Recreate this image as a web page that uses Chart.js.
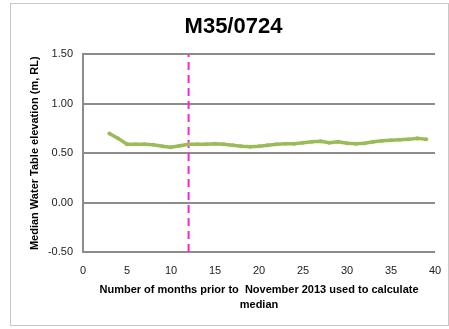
<!DOCTYPE html>
<html>
<head>
<meta charset="utf-8">
<script src="https://cdn.jsdelivr.net/npm/chart.js@4"></script>
<style>
    html, body { margin: 0; padding: 0; background: #fff; }
    #frame {
        position: absolute; left: 10px; top: 3px;
        width: 437px; height: 321px;
        border: 1px solid #c8c8c8;
    }
    #wrap { position: absolute; left: 0; top: 0; width: 449px; height: 329px; }
</style>
</head>
<body>
<div id="frame"></div>
<div id="wrap"><canvas id="chart" width="449" height="329"></canvas></div>
<script>
// months prior to Nov 2013 vs median water table elevation
const months = [3, 4, 5, 6, 7, 8, 9, 10, 11, 12, 13, 14, 15, 16, 17, 18, 19, 20, 21,
    22, 23, 24, 25, 26, 27, 28, 29, 30, 31, 32, 33, 34, 35, 36, 37, 38, 39];
const medianLevel = [0.70, 0.65, 0.59, 0.59, 0.59, 0.585, 0.57, 0.56, 0.575, 0.59, 0.59,
    0.59, 0.595, 0.59, 0.58, 0.57, 0.565, 0.57, 0.58, 0.59, 0.595, 0.595, 0.605, 0.615,
    0.62, 0.605, 0.615, 0.60, 0.595, 0.60, 0.615, 0.625, 0.63, 0.635, 0.64, 0.65, 0.64];
const markerMonth = [12, 12];
const markerLevel = [-0.5, 1.5];
const xTicks = [0, 5, 10, 15, 20, 25, 30, 35, 40];
const yTicks = [-0.5, 0, 0.5, 1.0, 1.5];

const font = "'Liberation Sans', Arial, sans-serif";
const gridGray = '#8c8c8c';

const lineData = months.map((m, i) => ({ x: m, y: medianLevel[i] }));
const dashData = markerMonth.map((m, i) => ({ x: m, y: markerLevel[i] }));

new Chart(document.getElementById('chart'), {
    type: 'line',
    data: {
        datasets: [{
            data: lineData,
            borderColor: '#9bbb59',
            backgroundColor: '#9bbb59',
            borderWidth: 3.5,
            pointRadius: 2,
            pointBorderWidth: 0,
            tension: 0
        }, {
            data: dashData,
            borderColor: '#ff22cc',
            borderWidth: 2,
            borderDash: [8, 5],
            pointRadius: 0
        }]
    },
    options: {
        responsive: false,
        animation: false,
        // left padding pushes the title centre right, like the original
        layout: { padding: { left: 32, right: 14, top: 0, bottom: 7 } },
        plugins: {
            legend: { display: false },
            tooltip: { enabled: false },
            title: {
                display: true,
                text: 'M35/0724',
                color: '#000',
                font: { family: font, size: 22, weight: 'bold' },
                padding: { top: 14, bottom: 14 }
            }
        },
        scales: {
            x: {
                type: 'linear',
                min: xTicks[0],
                max: xTicks[xTicks.length - 1],
                afterBuildTicks: s => { s.ticks = xTicks.map(v => ({ value: v })); },
                afterFit: s => { s.height = 70; s.paddingLeft = 0; s.paddingRight = 0; },
                grid: { display: false, drawTicks: false },
                border: { display: false },
                ticks: {
                    color: '#222',
                    padding: 12,
                    maxRotation: 0,
                    font: { family: font, size: 11 }
                },
                title: {
                    display: true,
                    text: ['Number of months prior to  November 2013 used to calculate', 'median'],
                    color: '#000',
                    font: { family: font, size: 11, weight: 'bold', lineHeight: 1.35 },
                    padding: { top: 0, bottom: 10 }
                }
            },
            y: {
                min: yTicks[0],
                max: yTicks[yTicks.length - 1],
                afterBuildTicks: s => { s.ticks = yTicks.map(v => ({ value: v })); },
                afterFit: s => { s.width = 51; },
                grid: { color: gridGray, lineWidth: 2, drawTicks: false },
                border: { display: true, color: gridGray, width: 2 },
                ticks: {
                    color: '#222',
                    padding: 10,
                    font: { family: font, size: 11 },
                    callback: v => v.toFixed(2)
                },
                title: {
                    display: true,
                    text: 'Median Water Table elevation (m, RL)',
                    color: '#000',
                    font: { family: font, size: 11, weight: 'bold' },
                    padding: { top: -4, bottom: 0 }
                }
            }
        }
    }
});
</script>
</body>
</html>
